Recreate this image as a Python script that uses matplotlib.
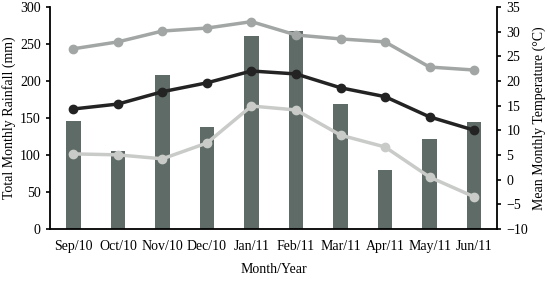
import matplotlib
matplotlib.use("Agg")
import matplotlib.pyplot as plt
import numpy as np

plt.rcParams['font.family'] = ['Liberation Serif', 'DejaVu Serif']

months = ['Sep/10', 'Oct/10', 'Nov/10', 'Dec/10', 'Jan/11', 'Feb/11',
          'Mar/11', 'Apr/11', 'May/11', 'Jun/11']
rainfall = [146, 105, 208, 137, 260, 268, 169, 79, 122, 144]
temp_max = [26.5, 27.9, 30.1, 30.7, 32.0, 29.3, 28.5, 27.9, 22.8, 22.2]
temp_mean = [14.3, 15.3, 17.8, 19.6, 22.0, 21.4, 18.6, 16.8, 12.7, 10.0]
temp_min = [5.2, 5.0, 4.2, 7.4, 14.9, 14.1, 9.0, 6.6, 0.5, -3.5]

x = np.arange(len(months))

fig = plt.figure(figsize=(5.47, 2.98), dpi=100)
ax = fig.add_axes([0.091, 0.232, 0.818, 0.745])
ax.bar(x, rainfall, width=0.33, color='#5f6b66')
ax.set_ylim(0, 300)
ax.set_xlim(-0.53, 9.52)
ax.set_xticks(x)
ax.set_xticklabels(months, fontsize=10)
ax.tick_params(axis='x', length=0, pad=8)
ax.tick_params(axis='y', labelsize=10, length=3, width=1.2)
ax.set_ylabel('Total Monthly Rainfall (mm)', fontsize=10, labelpad=3)
ax.set_xlabel('Month/Year', fontsize=10, labelpad=7)
ax.spines['top'].set_visible(False)
ax.spines['right'].set_visible(False)
for s in ['left', 'bottom']:
    ax.spines[s].set_linewidth(1.3)

ax2 = ax.twinx()
ax2.plot(x, temp_max, color='#a2a6a4', lw=2.5, marker='o', ms=6)
ax2.plot(x, temp_mean, color='#232323', lw=2.5, marker='o', ms=6)
ax2.plot(x, temp_min, color='#c9cbc9', lw=2.5, marker='o', ms=6)
ax2.set_ylim(-10, 35)
ax2.set_yticks(range(-10, 36, 5))
ax2.tick_params(axis='y', labelsize=10, length=3, width=1.2)
ax2.set_ylabel('Mean Monthly Temperature (°C)', fontsize=10, labelpad=3)
ax2.spines['top'].set_visible(False)
ax2.spines['left'].set_visible(False)
ax2.spines['bottom'].set_visible(False)
ax2.spines['right'].set_linewidth(1.3)

fig.savefig('out.png', dpi=100)
